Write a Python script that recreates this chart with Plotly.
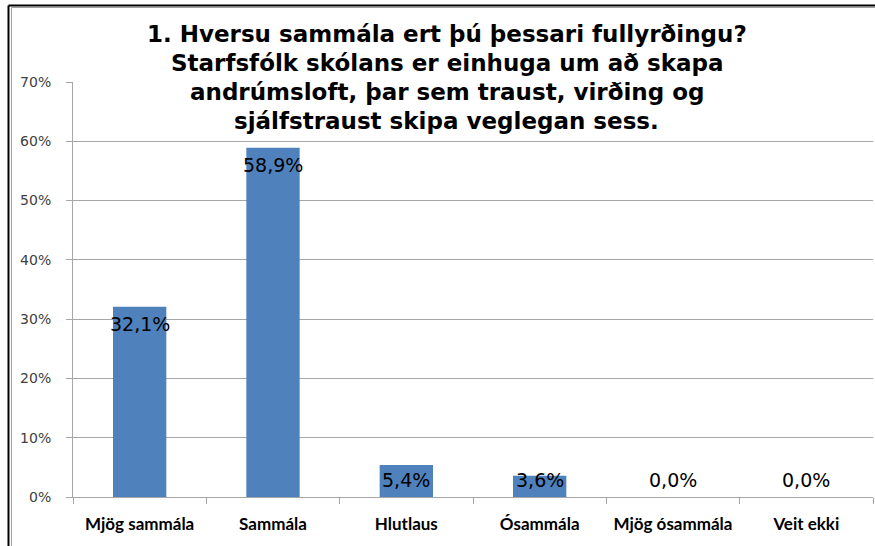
import plotly.graph_objects as go

categories = ["Mjög sammála", "Sammála", "Hlutlaus", "Ósammála", "Mjög ósammála", "Veit ekki"]
shares = [0.321, 0.589, 0.054, 0.036, 0.0, 0.0]
labels = ["32,1%", "58,9%", "5,4%", "3,6%", "0,0%", "0,0%"]
title_lines = [
    "1. Hversu sammála ert þú þessari fullyrðingu?",
    "Starfsfólk skólans er einhuga um að skapa",
    "andrúmsloft, þar sem traust, virðing og",
    "sjálfstraust skipa veglegan sess.",
]
y_ticks = [0, 0.1, 0.2, 0.3, 0.4, 0.5, 0.6, 0.7]
y_ticktext = ["0%", "10%", "20%", "30%", "40%", "50%", "60%", "70%"]

# plot area in pixels, used to place paper-referenced decorations
L, R, T, B = 73, 873, 82, 497
W, H = 875, 546


def px_x(x):
    return (x - L) / (R - L)


def px_y(y):
    return (B - y) / (B - T)


fig = go.Figure()
fig.add_trace(go.Bar(
    x=categories,
    y=shares,
    marker=dict(color="#4F81BD", line=dict(width=0)),
    hoverinfo="skip",
))

# data labels: inside the bar top, but never lower than just above the axis
for cat, v, lab in zip(categories, shares, labels):
    small = v < 0.057
    fig.add_annotation(
        x=cat, y=0 if small else v, text=lab, showarrow=False,
        yanchor="middle", yshift=17 if small else -17,
        font=dict(family="DejaVu Sans", size=19, color="#000000"),
    )

# title, one line each so the line spacing can match
title_y = [33.5, 62.5, 91.5, 121]
for line, ty in zip(title_lines, title_y):
    fig.add_annotation(
        xref="paper", yref="paper", x=px_x(446.5), y=px_y(ty),
        text="<b>" + line + "</b>", showarrow=False,
        xanchor="center", yanchor="middle", bgcolor="white", borderpad=0,
        font=dict(family="DejaVu Sans", size=23, color="#000000"),
    )

# chart frame (top and left edges)
frame = [
    (8.5, 5.5, W, 5.5, "#000000", 2),
    (8.5, 5.5, 8.5, H, "#000000", 2),
    (11.5, 7.5, W, 7.5, "#A0A0A0", 1),
    (11.5, 7.5, 11.5, H, "#A0A0A0", 1),
]
for x0, y0, x1, y1, c, w in frame:
    fig.add_shape(type="line", xref="paper", yref="paper",
                  x0=px_x(x0), y0=px_y(y0), x1=px_x(x1), y1=px_y(y1),
                  line=dict(color=c, width=w))

fig.update_layout(
    width=W, height=H,
    margin=dict(l=L, r=W - R, t=T, b=H - B),
    paper_bgcolor="white", plot_bgcolor="white",
    bargap=0.6, showlegend=False,
)
fig.update_yaxes(
    range=[0, 0.7], tickvals=y_ticks, ticktext=y_ticktext,
    showgrid=True, gridcolor="#A6A6A6", gridwidth=1,
    showline=True, linecolor="#A6A6A6", linewidth=1,
    ticks="outside", ticklen=6, tickcolor="#A6A6A6",
    ticklabelstandoff=12, zeroline=False,
    tickfont=dict(family="DejaVu Sans", size=14, color="#404040"),
)
fig.update_xaxes(
    showline=True, linecolor="#A6A6A6", linewidth=1,
    ticks="outside", tickson="boundaries", ticklen=6, tickcolor="#A6A6A6",
    ticklabelstandoff=12,
    tickfont=dict(family="Lato", size=17, color="#000000"),
    tickprefix="<b>", ticksuffix="</b>",
)

fig.write_html("out.html", config={"displayModeBar": False},
               post_script="document.body.style.margin='0';")
